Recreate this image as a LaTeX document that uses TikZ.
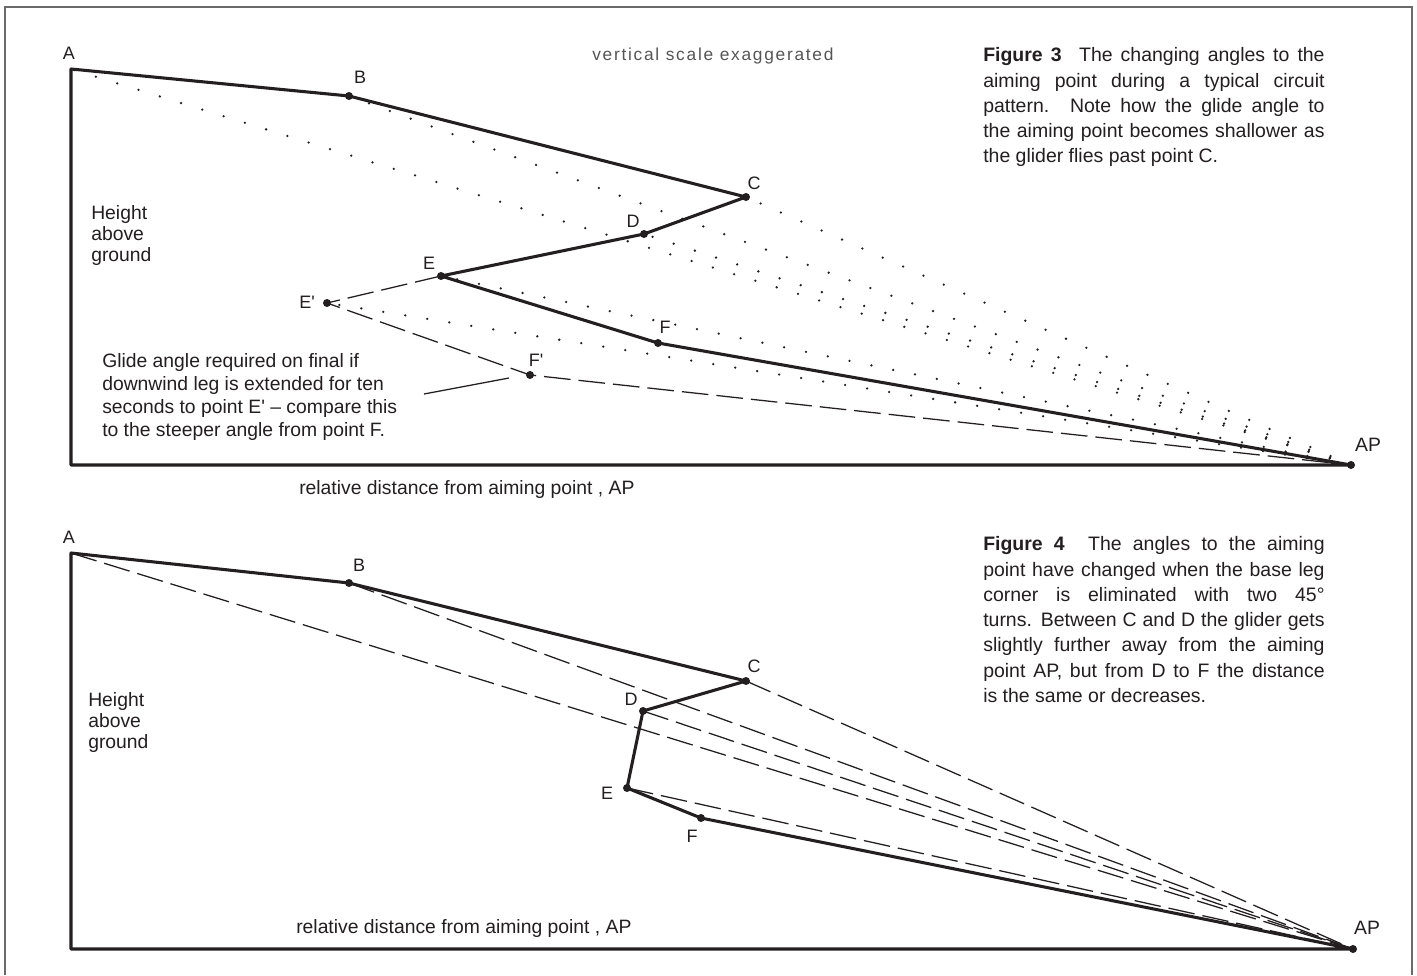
\documentclass[tikz,border=0pt]{standalone}
\usepackage{fontspec}
\newfontfamily\lsans{Liberation Sans}
\newfontfamily\lsanssp[LetterSpace=10]{Liberation Sans}
\definecolor{ink}{HTML}{231F20}
\definecolor{framegray}{HTML}{6A6A6A}
\definecolor{notegray}{HTML}{555555}
\begin{document}
\begin{tikzpicture}[x=0.75pt,y=-0.75pt,
  frameline/.style={draw=framegray, line width=1.4pt},
  track/.style={draw=ink, line width=2.3pt, line join=round},
  dotline/.style={draw=ink, line width=1.9pt, line cap=round, dash pattern=on 0pt off 16.7pt},
  dashline/.style={draw=ink, line width=0.95pt, dash pattern=on 20pt off 6pt},
  leader/.style={draw=ink, line width=0.95pt},
  vdot/.style={fill=ink},
  lbl/.style={font=\lsans\fontsize{13.5}{15}\selectfont, text=ink, inner sep=0pt},
  aplbl/.style={font=\lsans\fontsize{14.5}{16}\selectfont, text=ink, inner sep=0pt},
  body/.style={font=\lsans\fontsize{14.5}{16}\selectfont, text=ink, inner sep=0pt, anchor=base west},
  capt/.style={font=\lsans\fontsize{14.6}{18}\selectfont, text=ink, inner sep=0pt, anchor=base west},
  note/.style={font=\lsanssp\fontsize{13}{15}\selectfont, text=notegray, inner sep=0pt, anchor=base west}
]
\useasboundingbox (0,0) rectangle (1417,975);
\fill[white] (0,0) rectangle (1417,975);

% outer frame (open at the bottom)
\draw[frameline] (5,975) -- (5,7) -- (1412,7) -- (1412,975);

% ---------------- Figure 3 ----------------
\coordinate (A3) at (71,69);
\coordinate (B3) at (349,96);
\coordinate (C3) at (746,197);
\coordinate (D3) at (644,234);
\coordinate (E3) at (441,276);
\coordinate (F3) at (658,343);
\coordinate (Ep3) at (327,303);
\coordinate (Fp3) at (530,375);
\coordinate (AP3) at (1351,465);
\coordinate (O3) at (71,465);
\coordinate (L1) at (424,394);
\coordinate (L2) at (509,378);

% dotted sight lines (drawn from the aiming point outwards)
\foreach \p in {A3,B3,C3,D3,E3,Ep3}
  \draw[dotline] (AP3) -- (\p);

% dashed extended pattern
\draw[dashline] (E3) -- (Ep3) -- (Fp3) -- (AP3);
\draw[leader] (L1) -- (L2);

% axes and flight path
\draw[track] (AP3) -- (O3) -- (A3) -- (B3) -- (C3) -- (D3) -- (E3) -- (F3) -- (AP3);

\foreach \p in {B3,C3,D3,E3,F3,Ep3,Fp3,AP3}
  \fill[vdot] (\p) circle (3pt);

% labels
\node[lbl] (lA3) at (69,53) {A};
\node[lbl] (lB3) at (360,77) {B};
\node[lbl] (lC3) at (754,183) {C};
\node[lbl] (lD3) at (633,221) {D};
\node[lbl] (lE3) at (429,263) {E};
\node[lbl] (lF3) at (665,327) {F};
\node[lbl] (lEp3) at (307,302) {E'};
\node[lbl] (lFp3) at (536,360) {F'};
\node[aplbl] (lAP3) at (1368,445) {AP};

\node[note] (vs3) at (592,60.7) {vertical scale exaggerated};

\node[body] (h3a) at (91,219) {Height};
\node[body] (h3b) at (91,240) {above};
\node[body] (h3c) at (91,261) {ground};

\node[body] (g3a) at (102,367) {Glide angle required on final if};
\node[body] (g3b) at (102,390.4) {downwind leg is extended for ten};
\node[body] (g3c) at (102,413.6) {seconds to point E' – compare this};
\node[body] (g3d) at (102,436.7) {to the steeper angle from point F.};

\node[body] (x3) at (299,494) {relative distance from aiming point , AP};

\node[capt] (c3a) at (983,61.7) {\makebox[256pt][s]{\textbf{Figure 3}\hspace{0.9em}The changing angles to the}};
\node[capt] (c3b) at (983,87.0) {\makebox[256pt][s]{aiming point during a typical circuit}};
\node[capt] (c3c) at (983,112.2) {\makebox[256pt][s]{pattern.\hspace{0.12em} Note how the glide angle to}};
\node[capt] (c3d) at (983,137.5) {\makebox[256pt][s]{the aiming point becomes shallower as}};
\node[capt] (c3e) at (983,162.7) {the glider flies past point C.};

% ---------------- Figure 4 ----------------
\coordinate (A4) at (71,553);
\coordinate (B4) at (349,583);
\coordinate (C4) at (746,681);
\coordinate (D4) at (643,711);
\coordinate (E4) at (627,788);
\coordinate (F4) at (701,818);
\coordinate (AP4) at (1353,949);
\coordinate (O4) at (71,949);

\foreach \p in {A4,B4,C4,D4,E4}
  \draw[dashline] (\p) -- (AP4);

\draw[track] (AP4) -- (O4) -- (A4) -- (B4) -- (C4) -- (D4) -- (E4) -- (F4) -- (AP4);

\foreach \p in {B4,C4,D4,E4,F4,AP4}
  \fill[vdot] (\p) circle (3pt);

\node[lbl] (lA4) at (69,537) {A};
\node[lbl] (lB4) at (359,565) {B};
\node[lbl] (lC4) at (754,666) {C};
\node[lbl] (lD4) at (631,699) {D};
\node[lbl] (lE4) at (607,793) {E};
\node[lbl] (lF4) at (692,836) {F};
\node[aplbl] (lAP4) at (1367,928) {AP};

\node[body] (h4a) at (88,706.7) {Height};
\node[body] (h4b) at (88,727.7) {above};
\node[body] (h4c) at (88,748.5) {ground};

\node[body] (x4) at (296,933) {relative distance from aiming point , AP};

\node[capt] (c4a) at (983,550.7) {\makebox[256pt][s]{\textbf{Figure 4}\hspace{1.2em}The angles to the aiming}};
\node[capt] (c4b) at (983,576.0) {\makebox[256pt][s]{point have changed when the base leg}};
\node[capt] (c4c) at (983,601.2) {\makebox[256pt][s]{corner is eliminated with two 45°}};
\node[capt] (c4d) at (983,626.5) {\makebox[256pt][s]{turns. Between C and D the glider gets}};
\node[capt] (c4e) at (983,651.8) {\makebox[256pt][s]{slightly further away from the aiming}};
\node[capt] (c4f) at (983,677.0) {\makebox[256pt][s]{point AP, but from D to F the distance}};
\node[capt] (c4g) at (983,702.3) {is the same or decreases.};
\end{tikzpicture}
\end{document}
